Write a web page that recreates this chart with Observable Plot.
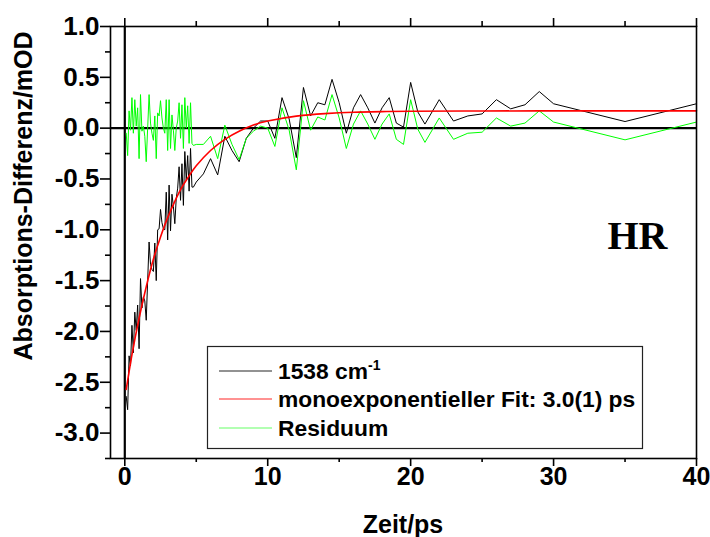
<!DOCTYPE html>
<html><head><meta charset="utf-8">
<script src="https://cdn.jsdelivr.net/npm/d3@7"></script>
<script src="https://cdn.jsdelivr.net/npm/@observablehq/plot@0.6"></script>
<style>body{margin:0;background:#fff}</style>
</head><body><div id="chart"></div>
<script>
// measured time points (ps)
const time = [0.1,0.2,0.3,0.4,0.5,0.6,0.7,0.8,0.9,1.0,1.1,1.2,1.3,1.4,1.5,1.6,1.7,1.8,1.9,2.0,
  2.1,2.2,2.3,2.4,2.5,2.6,2.7,2.8,2.9,3.0,3.1,3.2,3.3,3.4,3.5,3.6,3.7,3.8,3.9,4.0,
  4.1,4.2,4.3,4.4,4.5,4.6,4.7,4.8,
  5,5.5,6,6.5,7,7.5,8,8.5,9,9.5,10,10.5,11,11.5,12,12.5,13,13.5,14,14.5,15,15.5,16,16.5,17,17.5,18,18.5,19,19.5,20,20.5,21,
  22,23,24,25,26,27,28,29,30,35,40];
// absorption difference at 1538 cm-1 (mOD)
const signal = [-2.64,-2.77,-2.24,-2.34,-1.94,-2.21,-1.81,-1.99,-1.74,-2.17,-1.48,-1.77,-1.66,-1.70,-1.89,-1.50,-1.12,-1.34,-1.39,-1.41,
  -1.13,-1.50,-1.00,-0.99,-0.80,-0.93,-0.99,-1.00,-0.63,-1.10,-0.56,-1.01,-0.65,-0.77,-0.94,-0.69,-0.59,-0.38,-0.71,-0.35,
  -0.76,-0.23,-0.51,-0.27,-0.62,-0.20,-0.58,-0.58,
  -0.53,-0.45,-0.30,-0.46,-0.08,-0.22,-0.33,-0.10,0.00,0.07,0.07,-0.10,0.30,0.09,-0.29,0.40,0.12,0.25,0.23,0.48,0.25,-0.05,0.20,0.33,0.20,0.05,0.20,0.30,0.05,0.01,0.45,0.16,0.04,
  0.28,0.07,0.12,0.14,0.28,0.19,0.23,0.36,0.24,0.065,0.24];
// residuum (mOD)
const residual = [-0.05,-0.27,0.17,-0.02,0.30,-0.05,0.28,0.02,0.20,-0.30,0.33,-0.03,0.02,-0.08,-0.33,0.00,0.33,0.05,-0.05,-0.12,
  0.12,-0.30,0.15,0.12,0.27,0.10,0.00,-0.05,0.28,-0.22,0.28,-0.20,0.13,-0.02,-0.22,0.00,0.07,0.25,-0.10,0.23,
  -0.20,0.30,0.00,0.22,-0.15,0.25,-0.15,-0.17,
  -0.16,-0.16,-0.08,-0.30,0.03,-0.16,-0.31,-0.10,-0.03,0.02,0.00,-0.18,0.20,-0.02,-0.41,0.27,-0.02,0.11,0.08,0.33,0.10,-0.20,0.04,0.17,0.04,-0.11,0.04,0.14,-0.11,-0.16,0.28,-0.01,-0.14,
  0.10,-0.11,-0.05,-0.04,0.10,0.02,0.05,0.17,0.06,-0.115,0.06];
// monoexponential fit
const fitTime = [0.1,0.5,1,1.5,2,2.5,3,3.5,4,4.5,5,6,7,8,9,10,12,14,16,18,20,25,30,35,40];
const fitValue = [-2.57,-2.23,-1.87,-1.56,-1.29,-1.07,-0.88,-0.72,-0.58,-0.47,-0.37,-0.22,-0.11,-0.03,0.03,0.07,0.118,0.143,0.156,0.163,0.166,0.169,0.17,0.17,0.17];

const xTicks = [0,10,20,30,40];
const xMinor = [5,15,25,35];
const yTicks = [1.0,0.5,0.0,-0.5,-1.0,-1.5,-2.0,-2.5,-3.0];
const yMinor = [0.75,0.25,-0.25,-0.75,-1.25,-1.75,-2.25,-2.75,-3.25];

const seriesNames = ["1538 cm", "monoexponentieller Fit: 3.0(1) ps", "Residuum"];
const seriesColors = ["#000000", "#ff0000", "#00ff00"];
const xLabel = "Zeit/ps";
const yLabel = "Absorptions-Differenz/mOD";
const sampleLabel = "HR";

const data = time.map((t, i) => ({t, s: signal[i], r: residual[i]}));
const fit = fitTime.map((t, i) => ({t, f: fitValue[i]}));
const fmt = d => d.toFixed(1);

const W = 710, H = 537, mL = 110, mR = 14, mT = 26, mB = 79;

const plot = Plot.plot({
  width: W, height: H,
  marginLeft: mL, marginRight: mR, marginTop: mT, marginBottom: mB,
  style: {fontFamily: "Liberation Sans, Arial, sans-serif", fontWeight: "bold", fontSize: "25px", background: "#fff", color: "#000"},
  x: {domain: [-1, 40]},
  y: {domain: [-3.25, 1.0]},
  marks: [
    Plot.ruleY([0], {stroke: "#000", strokeWidth: 2.2}),
    Plot.ruleX([0], {stroke: "#000", strokeWidth: 2.2}),
    Plot.lineY(data, {x: "t", y: "s", stroke: seriesColors[0], strokeWidth: 1}),
    Plot.lineY(data, {x: "t", y: "r", stroke: seriesColors[2], strokeWidth: 1}),
    Plot.lineY(fit, {x: "t", y: "f", stroke: seriesColors[1], strokeWidth: 1.6, curve: "natural"}),
    Plot.frame({stroke: "#000", strokeWidth: 1.6}),
    Plot.axisY(yTicks, {tickSize: 10, tickPadding: 1, tickFormat: fmt, fontSize: 26, fontWeight: "bold", label: null, strokeWidth: 1.6}),
    Plot.axisY(yMinor, {tickSize: 5, tickFormat: () => "", label: null, strokeWidth: 1.6}),
    Plot.axisX(xTicks, {tickSize: 8, tickPadding: 1, tickFormat: d => String(d), fontSize: 25, fontWeight: "bold", label: null, strokeWidth: 1.6}),
    Plot.axisX(xMinor, {tickSize: 4, tickFormat: () => "", label: null, strokeWidth: 1.6}),
    Plot.axisX(xTicks, {anchor: "top", tickSize: 9, tickFormat: () => "", label: null, strokeWidth: 1.6}),
    Plot.axisX(xMinor, {anchor: "top", tickSize: 6, tickFormat: () => "", label: null, strokeWidth: 1.6}),
    Plot.text([sampleLabel], {frameAnchor: "top-right", dx: -29, dy: 222, lineAnchor: "bottom", textAnchor: "end",
      fontFamily: "Liberation Serif, Times New Roman, serif", fontWeight: "bold", fontSize: 40, fill: "#000"})
  ]
});

document.getElementById("chart").append(plot);
const svg = d3.select(plot);

// axis titles
svg.append("text").text(yLabel)
  .attr("transform", "translate(32,196) rotate(-90)")
  .attr("text-anchor", "middle").attr("font-size", 25).attr("font-weight", "bold")
  .attr("font-family", "Liberation Sans, Arial, sans-serif").attr("fill", "#000");
svg.append("text").text(xLabel)
  .attr("x", (mL + W - mR) / 2).attr("y", 533)
  .attr("text-anchor", "middle").attr("font-size", 25).attr("font-weight", "bold")
  .attr("font-family", "Liberation Sans, Arial, sans-serif").attr("fill", "#000");

// legend
const lg = svg.append("g").attr("font-family", "Liberation Sans, Arial, sans-serif").attr("font-weight", "bold")
  .attr("text-anchor", "start");
lg.append("rect").attr("x", 207.5).attr("y", 346.5).attr("width", 435).attr("height", 102)
  .attr("fill", "#fff").attr("stroke", "#222").attr("stroke-width", 1.2);
const rowY = [371, 399, 428];
seriesNames.forEach((name, i) => {
  lg.append("line").attr("x1", 219).attr("x2", 272).attr("y1", rowY[i]).attr("y2", rowY[i])
    .attr("stroke", seriesColors[i]).attr("stroke-width", 1.2).attr("opacity", i === 2 ? 0.6 : 0.85);
  const t = lg.append("text").attr("x", 278).attr("y", rowY[i] + 8).attr("font-size", 22.8)
    .attr("text-anchor", "start").attr("fill", "#000");
  t.append("tspan").text(name);
  if (i === 0) t.append("tspan").text("-1").attr("font-size", 14).attr("dy", -9);
});
</script>
</body></html>
